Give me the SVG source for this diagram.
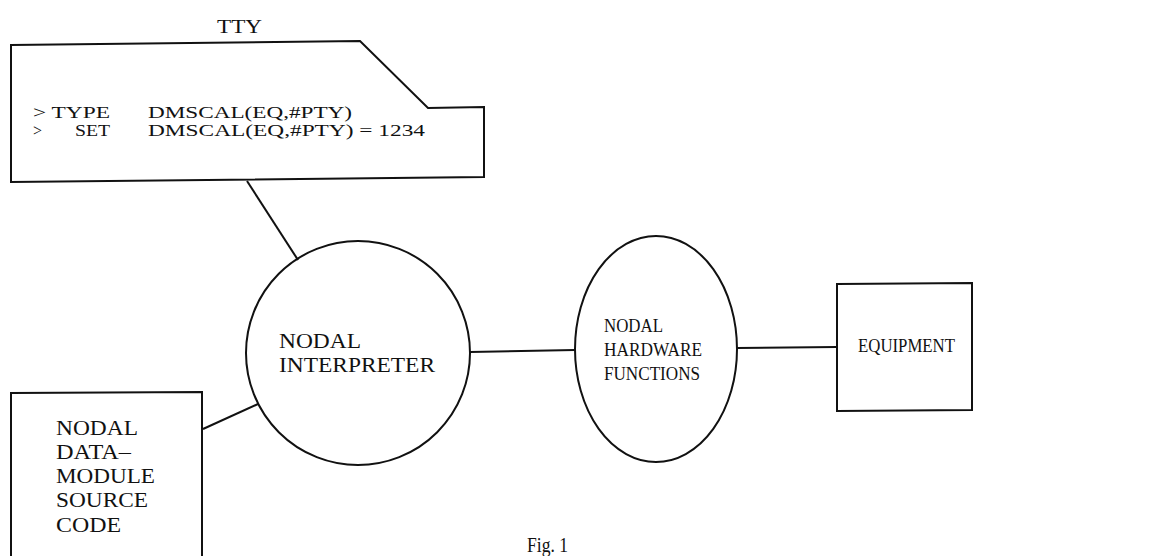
<svg xmlns="http://www.w3.org/2000/svg" width="1174" height="556" viewBox="0 0 1174 556">
<style>
.s{fill:none;stroke:#111;stroke-width:2}
text{font-family:"Liberation Serif","Times New Roman",serif;fill:#111}
.a{font-size:19px}
.b{font-size:21px}
.t{font-size:16px}
</style>
<rect width="1174" height="556" fill="#fff"/>
<g id="tty">
<text class="a" x="217" y="33" textLength="45" lengthAdjust="spacingAndGlyphs">TTY</text>
<path class="s" d="M11,45 L360,41 L428,108 L484,107 L484,177 L11,182 Z"/>
<text class="t" x="33" y="118" textLength="77" lengthAdjust="spacingAndGlyphs">&gt; TYPE</text>
<text class="t" x="148" y="118" textLength="204" lengthAdjust="spacingAndGlyphs">DMSCAL(EQ,#PTY)</text>
<text class="t" x="33" y="136">&gt;</text>
<text class="t" x="75" y="136" textLength="35" lengthAdjust="spacingAndGlyphs">SET</text>
<text class="t" x="148" y="136" textLength="277" lengthAdjust="spacingAndGlyphs">DMSCAL(EQ,#PTY) = 1234</text>
</g>
<g id="interpreter">
<circle class="s" cx="358" cy="353" r="112"/>
<text class="b" x="279" y="348" textLength="82" lengthAdjust="spacingAndGlyphs">NODAL</text>
<text class="b" x="279" y="372" textLength="156" lengthAdjust="spacingAndGlyphs">INTERPRETER</text>
</g>
<g id="datamodule">
<path class="s" d="M11,560 L11,393 L202,392 L202,560"/>
<text class="b" x="56" y="435" textLength="82" lengthAdjust="spacingAndGlyphs">NODAL</text>
<text class="b" x="56" y="459" textLength="75" lengthAdjust="spacingAndGlyphs">DATA–</text>
<text class="b" x="56" y="483" textLength="99" lengthAdjust="spacingAndGlyphs">MODULE</text>
<text class="b" x="56" y="507" textLength="92" lengthAdjust="spacingAndGlyphs">SOURCE</text>
<text class="b" x="56" y="532" textLength="65" lengthAdjust="spacingAndGlyphs">CODE</text>
</g>
<g id="hardware">
<ellipse class="s" cx="656" cy="349" rx="81" ry="113"/>
<text class="a" x="604" y="332" textLength="59" lengthAdjust="spacingAndGlyphs">NODAL</text>
<text class="a" x="604" y="356" textLength="98" lengthAdjust="spacingAndGlyphs">HARDWARE</text>
<text class="a" x="604" y="380" textLength="96" lengthAdjust="spacingAndGlyphs">FUNCTIONS</text>
</g>
<g id="equipment">
<path class="s" d="M837,284 L972,283 L972,410 L837,411 Z"/>
<text class="a" x="858" y="352" textLength="97" lengthAdjust="spacingAndGlyphs">EQUIPMENT</text>
</g>
<g id="connectors">
<line class="s" x1="247" y1="181" x2="298" y2="260"/>
<line class="s" x1="203" y1="429" x2="258" y2="404"/>
<line class="s" x1="470" y1="352" x2="575" y2="350"/>
<line class="s" x1="737" y1="348" x2="837" y2="347"/>
</g>
<text x="527" y="552" font-size="22" textLength="41" lengthAdjust="spacingAndGlyphs">Fig. 1</text>
</svg>
